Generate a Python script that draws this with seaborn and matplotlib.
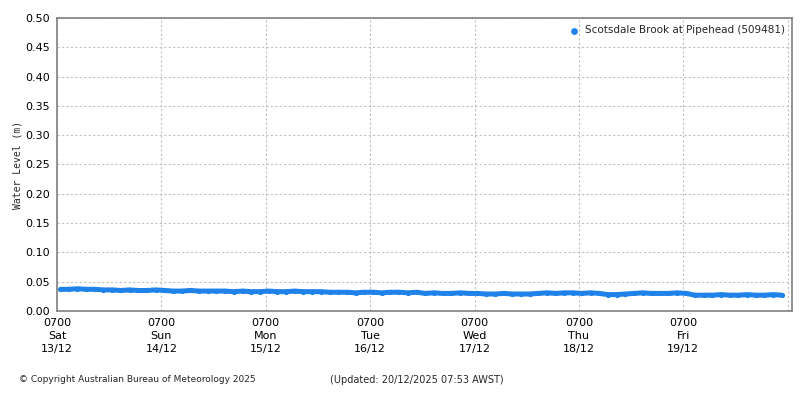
import matplotlib

matplotlib.use("Agg")
import matplotlib.dates as mdates
import numpy as np
import pandas as pd
import seaborn as sns
from matplotlib import pyplot as plt
from matplotlib.ticker import MultipleLocator, FormatStrFormatter, FuncFormatter

# 2-hourly water level readings (m)
start_time = "2025-12-13 07:40"
level_m = [
    0.037, 0.037, 0.038, 0.037, 0.037,
    0.036, 0.036, 0.035, 0.036, 0.035, 0.035, 0.036, 0.035,
    0.034, 0.034, 0.035, 0.034, 0.034, 0.034,
    0.034, 0.033, 0.034, 0.033, 0.033, 0.034, 0.033, 0.033, 0.034, 0.033, 0.033, 0.033, 0.032,
    0.032, 0.032, 0.031, 0.032, 0.032, 0.031, 0.032, 0.032, 0.031, 0.032,
    0.030, 0.031, 0.030, 0.030, 0.031, 0.030, 0.030,
    0.029, 0.029, 0.030, 0.029, 0.029, 0.029, 0.030,
    0.031, 0.030, 0.031, 0.031, 0.030, 0.031, 0.030,
    0.028, 0.028, 0.029,
    0.030, 0.031, 0.030, 0.030, 0.030, 0.031, 0.030,
    0.027, 0.027, 0.027, 0.028, 0.027, 0.027, 0.028, 0.027, 0.027, 0.028, 0.027,
]
station = "Scotsdale Brook at Pipehead (509481)"
copyright_text = "\u00a9 Copyright Australian Bureau of Meteorology 2025"
updated_text = "(Updated: 20/12/2025 07:53 AWST)"
last_label_day = pd.Timestamp("2025-12-19 07:00")

df = pd.DataFrame({
    "time": pd.date_range(start_time, periods=len(level_m), freq="2h"),
    "level": level_m,
})

sns.set_style("white")
plt.rcParams["font.family"] = ["DejaVu Sans"]
plt.rcParams["font.size"] = 8

blue = "#1f82e8"
grey = "#808080"

fig = plt.figure(figsize=(8, 4), dpi=100)
ax = fig.add_axes([0.0713, 0.2225, 0.9187, 0.7325])

sns.lineplot(data=df, x="time", y="level", ax=ax, color=blue,
             linewidth=3.6, solid_capstyle="butt", legend=False)
sns.scatterplot(data=df, x="time", y="level", ax=ax, color=blue,
                s=14, marker="o", linewidth=0, label=station)


def day_label(x, pos):
    d = mdates.num2date(x).replace(tzinfo=None)
    if d > last_label_day + pd.Timedelta(hours=1):
        return ""
    return d.strftime("%H%M\n%a\n%d/%m")


ax.set_ylim(0, 0.5)
ax.set_xlim(pd.Timestamp("2025-12-13 07:00"), pd.Timestamp("2025-12-20 08:00"))
ax.yaxis.set_major_locator(MultipleLocator(0.05))
ax.yaxis.set_major_formatter(FormatStrFormatter("%.2f"))
ax.xaxis.set_major_locator(mdates.HourLocator(byhour=[7]))
ax.xaxis.set_minor_locator(mdates.HourLocator(byhour=[1, 7, 13, 19]))
ax.xaxis.set_major_formatter(FuncFormatter(day_label))

ax.grid(True, which="major", color="#c0c0c0", linestyle=(0, (2, 2)), linewidth=0.8)
for s in ax.spines.values():
    s.set_color(grey)
    s.set_linewidth(1.2)
ax.tick_params(axis="both", which="both", direction="out", length=3,
               color=grey, labelsize=8, labelcolor="black", pad=2)
for lab in ax.get_xticklabels():
    lab.set_linespacing(1.35)

ax.set_xlabel("")
ax.set_ylabel("Water Level (m)", family="DejaVu Sans Mono", fontsize=7, labelpad=2)

leg = ax.legend(loc="upper right", frameon=False, fontsize=7.5, handlelength=0.8,
                handletextpad=0.6, borderaxespad=0.3)
for h in leg.legend_handles:
    h.set_sizes([24])

fig.text(0.024, 0.05, copyright_text, fontsize=6.5, va="center")
fig.text(0.412, 0.05, updated_text, fontsize=7, va="center")

fig.savefig("out.png", dpi=100)
